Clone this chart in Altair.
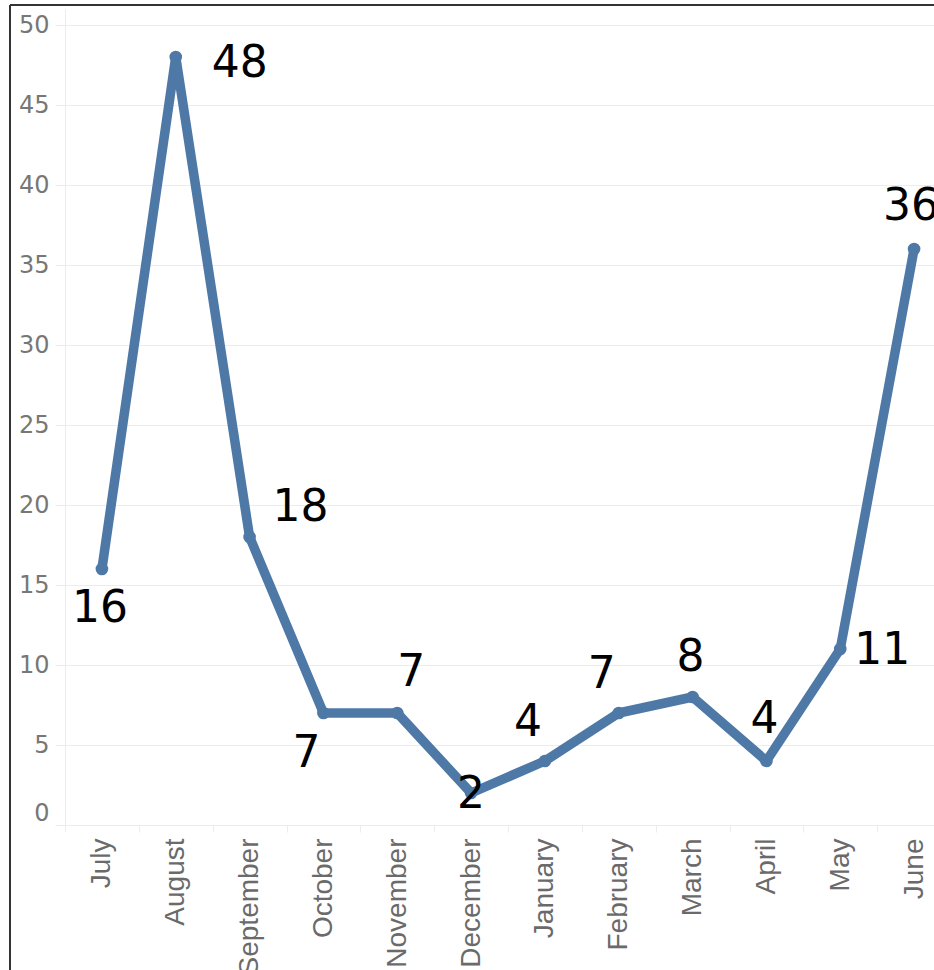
import altair as alt
import pandas as pd

months = ["July", "August", "September", "October", "November", "December",
          "January", "February", "March", "April", "May", "June"]
values = [16, 48, 18, 7, 7, 2, 4, 7, 8, 4, 11, 36]

# label placement (dx, dy) in pixels, per month
label_offsets = {
    "July": (-2, 40), "August": (64, 7), "September": (51, -29),
    "October": (-17, 41), "November": (14, -40), "December": (0, 2),
    "January": (-17, -38), "February": (-17, -38), "March": (-2, -39),
    "April": (-2, -41), "May": (42, 2), "June": (-3, -42),
}

df = pd.DataFrame({"month": months, "value": values})

W, H = 869, 816
BLUE = "#4e79a7"
GRID = "#ececec"

x = alt.X("month:N", sort=months, title=None,
          scale=alt.Scale(type="band", range=[0, 886], paddingInner=0, paddingOuter=0),
          axis=alt.Axis(labelAngle=270, tickBand="extent", tickSize=7, tickColor=GRID,
                        domainColor=GRID, labelPadding=6, labelFont="Liberation Sans",
                        labelFontSize=28, labelColor="#6a6a6a", grid=False))
y = alt.Y("value:Q", title=None,
          scale=alt.Scale(domain=[0, 51], nice=False, zero=True),
          axis=alt.Axis(values=list(range(0, 51, 5)), grid=True, gridColor=GRID,
                        domainColor=GRID, tickColor=GRID, tickSize=10, labelPadding=6,
                        labelFont="DejaVu Sans", labelFontSize=24, labelColor="#777777",
                        labelFlush=True))

base = alt.Chart(df)
line = base.mark_line(color=BLUE, strokeWidth=9.5, strokeJoin="round", strokeCap="round").encode(x=x, y=y)
pts = base.mark_circle(color=BLUE, size=160, opacity=1).encode(x=x, y=y)

texts = []
for m in months:
    dx, dy = label_offsets[m]
    texts.append(
        base.transform_filter(alt.datum.month == m)
        .mark_text(font="DejaVu Sans", fontSize=44, color="black", dx=dx, dy=dy,
                   baseline="middle", align="center")
        .encode(x=x, y=y, text="value:Q")
    )

frame_df = pd.DataFrame({"a": [0]})
left_border = alt.Chart(frame_df).mark_rule(color="#333333", strokeWidth=2).encode(
    x=alt.value(-55), y=alt.value(-4), y2=alt.value(961))
top_border = alt.Chart(frame_df).mark_rule(color="#333333", strokeWidth=2).encode(
    x=alt.value(-55), x2=alt.value(869), y=alt.value(-4))

chart = alt.layer(line, pts, *texts, left_border, top_border).properties(
    width=W, height=H,
    autosize=alt.AutoSizeParams(type="none"),
    padding={"left": 65, "top": 9, "right": 0, "bottom": 145},
    background="white",
).configure_view(stroke=None)

chart.save("out.html", embed_options={"renderer": "svg", "actions": False})
